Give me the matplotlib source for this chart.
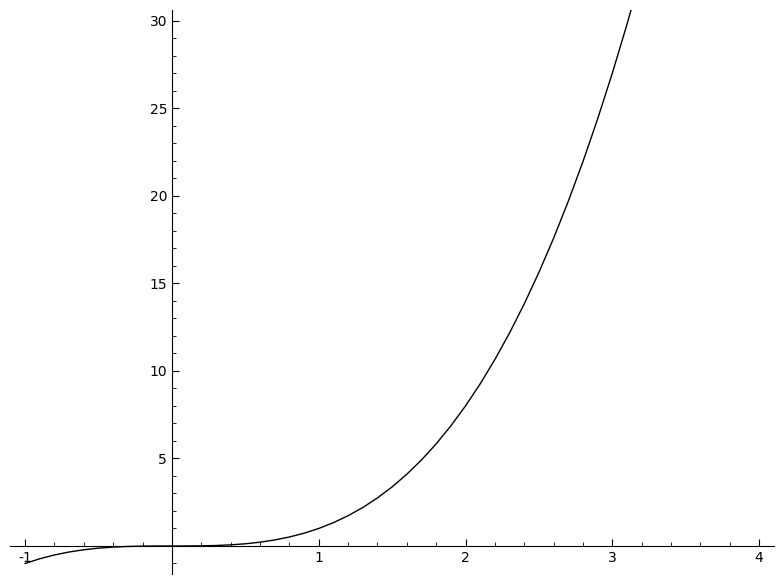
import matplotlib
matplotlib.use("Agg")
import matplotlib.pyplot as plt
from matplotlib.ticker import MultipleLocator, FixedLocator

plt.rcParams['axes.unicode_minus'] = False

# points
xs = [-1.0, -0.9, -0.8, -0.7, -0.6, -0.5, -0.4, -0.3, -0.2, -0.1,
      0.0, 0.1, 0.2, 0.3, 0.4, 0.5, 0.6, 0.7, 0.8, 0.9,
      1.0, 1.1, 1.2, 1.3, 1.4, 1.5, 1.6, 1.7, 1.8, 1.9,
      2.0, 2.1, 2.2, 2.3, 2.4, 2.5, 2.6, 2.7, 2.8, 2.9,
      3.0, 3.1, 3.2]
ys = [-1.000, -0.729, -0.512, -0.343, -0.216, -0.125, -0.064, -0.027, -0.008, -0.001,
      0.0, 0.001, 0.008, 0.027, 0.064, 0.125, 0.216, 0.343, 0.512, 0.729,
      1.0, 1.331, 1.728, 2.197, 2.744, 3.375, 4.096, 4.913, 5.832, 6.859,
      8.0, 9.261, 10.648, 12.167, 13.824, 15.625, 17.576, 19.683, 21.952, 24.389,
      27.0, 29.791, 32.768]

x_major = [-1, 1, 2, 3, 4]
y_major = [5, 10, 15, 20, 25, 30]

fig = plt.figure(figsize=(7.84, 5.84), dpi=100)
ax = fig.add_axes([10/784, 10/584, 764/784, 564/584])

ax.plot(xs, ys, color='black', linewidth=1)

ax.set_xlim(-1.103, 4.101)
ax.set_ylim(-1.6, 30.6)

ax.spines['left'].set_position(('data', 0))
ax.spines['bottom'].set_position(('data', 0))
ax.spines['right'].set_visible(False)
ax.spines['top'].set_visible(False)

ax.xaxis.set_major_locator(FixedLocator(x_major))
ax.xaxis.set_minor_locator(MultipleLocator(0.2))
ax.yaxis.set_major_locator(FixedLocator(y_major))
ax.yaxis.set_minor_locator(MultipleLocator(1))
ax.set_xticklabels([str(v) for v in x_major])
ax.set_yticklabels([str(v) for v in y_major])

ax.tick_params(which='both', direction='in', labelsize=10)
ax.tick_params(which='major', length=5)
ax.tick_params(which='minor', length=3)

fig.savefig('out.png', dpi=100)
